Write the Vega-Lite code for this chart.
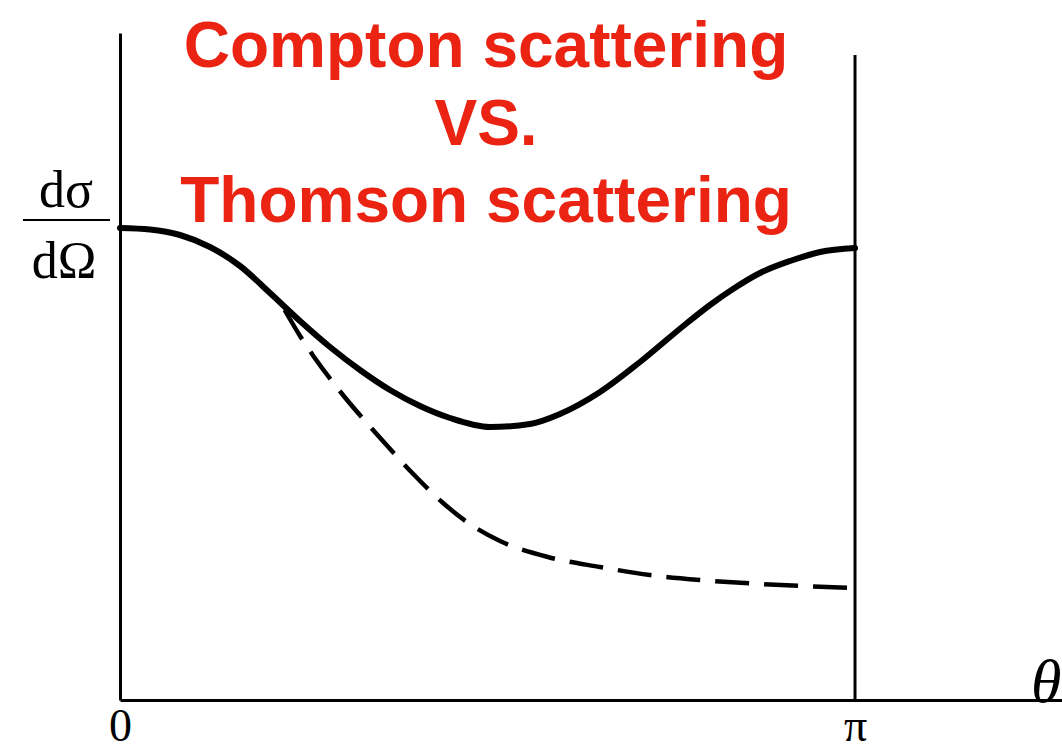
{
  "$schema": "https://vega.github.io/schema/vega-lite/v6.json",
  "width": 942,
  "height": 667,
  "autosize": {"type": "none"},
  "padding": {"left": 120, "top": 33, "right": 0, "bottom": 50},
  "background": "white",
  "config": {"view": {"stroke": null}},
  "datasets": {
    "compton": [
      {"t": 0, "v": 4.72}, {"t": 0.0408, "v": 4.705}, {"t": 0.0816, "v": 4.65}, {"t": 0.1224, "v": 4.53},
      {"t": 0.1633, "v": 4.34}, {"t": 0.2041, "v": 4.07}, {"t": 0.2449, "v": 3.79}, {"t": 0.2857, "v": 3.53},
      {"t": 0.3265, "v": 3.30}, {"t": 0.3673, "v": 3.10}, {"t": 0.4082, "v": 2.94}, {"t": 0.449, "v": 2.82},
      {"t": 0.5034, "v": 2.73}, {"t": 0.5578, "v": 2.76}, {"t": 0.5986, "v": 2.86}, {"t": 0.6531, "v": 3.08},
      {"t": 0.7075, "v": 3.38}, {"t": 0.7714, "v": 3.77}, {"t": 0.8027, "v": 3.95}, {"t": 0.834, "v": 4.11},
      {"t": 0.8707, "v": 4.27}, {"t": 0.9116, "v": 4.39}, {"t": 0.9524, "v": 4.48}, {"t": 1.0, "v": 4.52}
    ],
    "thomson": [
      {"t": 0.224, "v": 3.90}, {"t": 0.245, "v": 3.64}, {"t": 0.265, "v": 3.42}, {"t": 0.299, "v": 3.09},
      {"t": 0.354, "v": 2.62}, {"t": 0.399, "v": 2.26}, {"t": 0.438, "v": 1.98}, {"t": 0.476, "v": 1.76},
      {"t": 0.517, "v": 1.59}, {"t": 0.582, "v": 1.43}, {"t": 0.653, "v": 1.33}, {"t": 0.721, "v": 1.25},
      {"t": 0.789, "v": 1.2}, {"t": 0.871, "v": 1.16}, {"t": 1.0, "v": 1.12}
    ],
    "rules": [
      {"t": 1.0, "t2": 1.0, "v": 0, "v2": 6.45, "w": "pi"},
      {"t": -0.132, "t2": -0.0136, "v": 4.8, "v2": 4.8, "w": "bar"}
    ],
    "titles": [
      {"label": "Compton scattering", "t": 0.498, "v": 6.33},
      {"label": "VS.", "t": 0.498, "v": 5.55},
      {"label": "Thomson scattering", "t": 0.498, "v": 4.78}
    ],
    "symbols": [
      {"label": "dσ", "t": -0.0735, "v": 4.93},
      {"label": "dΩ", "t": -0.076, "v": 4.22}
    ],
    "theta": [
      {"label": "θ", "t": 1.26, "v": -0.02}
    ]
  },
  "layer": [
    {
      "data": {"name": "compton"},
      "mark": {"type": "line", "color": "black", "strokeWidth": 6, "interpolate": "monotone", "strokeCap": "round"},
      "encoding": {
        "x": {"field": "t", "type": "quantitative", "title": null,
              "scale": {"domain": [0, 1.2816], "nice": false, "zero": false},
              "axis": {"values": [0, 1], "labelExpr": "datum.value == 0 ? '0' : 'π'", "title": null,
                       "ticks": false, "grid": false, "domainColor": "black", "domainWidth": 3,
                       "labelFont": "Liberation Serif", "labelFontSize": 46, "labelColor": "black",
                       "labelBaseline": "alphabetic", "labelPadding": 40,
                       "labelFlush": false, "labelOverlap": false}},
        "y": {"field": "v", "type": "quantitative", "title": null,
              "scale": {"domain": [0, 6.67], "nice": false, "zero": false},
              "axis": {"title": null, "ticks": false, "labels": false, "grid": false,
                       "domainColor": "black", "domainWidth": 3}}
      }
    },
    {
      "data": {"name": "thomson"},
      "mark": {"type": "line", "color": "black", "strokeWidth": 4.5, "interpolate": "monotone", "strokeDash": [34, 15]},
      "encoding": {
        "x": {"field": "t", "type": "quantitative", "title": null},
        "y": {"field": "v", "type": "quantitative", "title": null}
      }
    },
    {
      "data": {"name": "rules"},
      "mark": {"type": "rule", "color": "black"},
      "encoding": {
        "x": {"field": "t", "type": "quantitative", "title": null},
        "x2": {"field": "t2"},
        "y": {"field": "v", "type": "quantitative", "title": null},
        "y2": {"field": "v2"},
        "strokeWidth": {"field": "w", "type": "nominal", "scale": {"domain": ["pi", "bar"], "range": [3, 2]}, "legend": null}
      }
    },
    {
      "data": {"name": "titles"},
      "mark": {"type": "text", "color": "#EA2312", "font": "Liberation Sans", "fontWeight": "bold", "fontSize": 64, "align": "center", "baseline": "alphabetic"},
      "encoding": {
        "x": {"field": "t", "type": "quantitative", "title": null},
        "y": {"field": "v", "type": "quantitative", "title": null},
        "text": {"field": "label"}
      }
    },
    {
      "data": {"name": "symbols"},
      "mark": {"type": "text", "color": "black", "font": "Liberation Serif", "fontSize": 52, "align": "center", "baseline": "alphabetic"},
      "encoding": {
        "x": {"field": "t", "type": "quantitative", "title": null},
        "y": {"field": "v", "type": "quantitative", "title": null},
        "text": {"field": "label"}
      }
    },
    {
      "data": {"name": "theta"},
      "mark": {"type": "text", "color": "black", "font": "Liberation Serif", "fontStyle": "italic", "fontSize": 62, "align": "center", "baseline": "alphabetic"},
      "encoding": {
        "x": {"field": "t", "type": "quantitative", "title": null},
        "y": {"field": "v", "type": "quantitative", "title": null},
        "text": {"field": "label"}
      }
    }
  ]
}
